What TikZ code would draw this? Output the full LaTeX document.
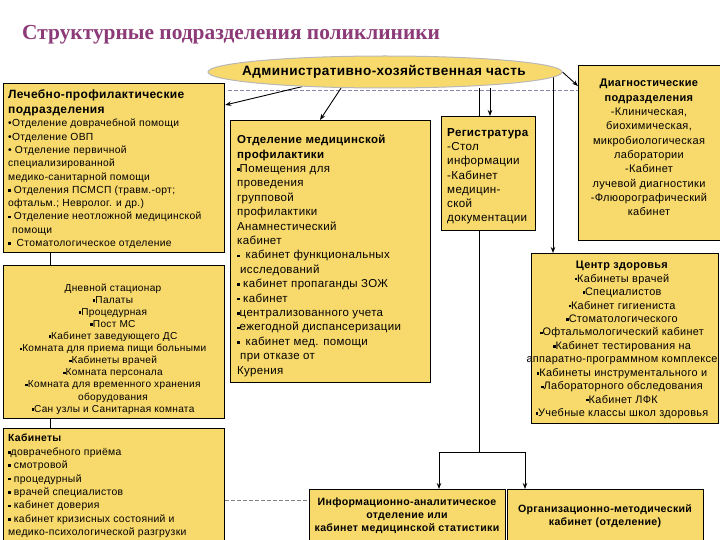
\documentclass[tikz,border=0pt]{standalone}
\usepackage{fontspec}
\setmainfont{Liberation Sans}[LetterSpace=3]
\newfontfamily\titlefont{Liberation Serif}
\usetikzlibrary{shapes.geometric,arrows.meta,backgrounds,calc}
\definecolor{boxy}{RGB}{248,217,108}
\definecolor{ttl}{RGB}{140,58,120}
\definecolor{dashc}{RGB}{140,130,170}
\definecolor{dashg}{RGB}{130,130,130}
\newcommand\sq{\raisebox{0.3ex}{\rule{2.5pt}{2.5pt}}}
\begin{document}
\begin{tikzpicture}[x=1pt,y=-1pt,
 box/.style={draw=black,line width=1.2pt,fill=boxy,inner sep=0pt,anchor=north west},
 lt/.style={inner sep=0pt,anchor=north west,align=left},
 ct/.style={inner sep=0pt,anchor=north,align=center},
 arr/.style={-{Stealth[length=6pt,width=4.5pt]},line width=0.9pt},
 ln/.style={line width=0.9pt},
 dsh/.style={dash pattern=on 4pt off 2pt,draw=dashc,line width=0.7pt},
 dshb/.style={dash pattern=on 4pt off 2pt,draw=dashg,line width=0.7pt}]
\useasboundingbox (0,0) rectangle (720,540);

% title
\node[anchor=base west,inner sep=0pt,font=\titlefont\bfseries\fontsize{21.4}{24}\selectfont,text=ttl] (title) at (22,40) {Структурные подразделения поликлиники};

% ellipse
\node[ellipse,draw=gray!55,line width=1pt,fill=boxy,minimum width=354pt,minimum height=32pt,inner sep=0pt] (adm) at (385,72) {};
\node[inner sep=0pt,font=\bfseries\fontsize{13.6}{15}\selectfont] (admT) at (384,72) {Административно-хозяйственная часть};

% boxes
\node[box,minimum width=221pt,minimum height=169pt] (lp) at (3,83) {};
\node[box,minimum width=221pt,minimum height=153pt] (ds) at (3,265) {};
\node[box,minimum width=221pt,minimum height=125pt] (kb) at (3,428) {};
\node[box,minimum width=200pt,minimum height=262pt] (mb) at (230,120) {};
\node[box,minimum width=94pt,minimum height=114pt] (reg) at (441,116) {};
\node[box,minimum width=150pt,minimum height=175pt] (dg) at (578,65) {};
\node[box,minimum width=187pt,minimum height=170pt] (cz) at (531,253) {};
\node[box,minimum width=196pt,minimum height=65pt] (ia) at (309,489) {};
\node[box,minimum width=196pt,minimum height=65pt] (oc) at (507,489) {};

% texts
\node[lt,font=\bfseries\fontsize{12}{15}\selectfont] (lpT) at (8,90) {Лечебно-профилактические\\подразделения};
\node[lt,font=\fontsize{10.3}{13.3}\selectfont] (lpB) at (8,119) {•Отделение доврачебной помощи\\•Отделение ОВП\\• Отделение первичной\\специализированной\\медико-санитарной помощи\\\sq{} Отделения ПСМСП (травм.-орт;\\офтальм.; Невролог. и др.)\\\sq{} Отделение неотложной медицинской\\\hspace*{4pt}помощи\\\sq{}\hspace*{6pt}Стоматологическое отделение};

\node[ct,font=\fontsize{10.1}{12.1}\selectfont] (dsT) at (113,283.5) {Дневной стационар\\\sq Палаты\\\sq Процедурная\\\sq Пост МС\\\sq Кабинет заведующего ДС\\\sq Комната для приема пищи больными\\\sq Кабинеты врачей\\\sq Комната персонала\\\sq Комната для временного хранения\\оборудования\\\sq Сан узлы и Санитарная комната};

\node[lt,font=\fontsize{10.4}{13.4}\selectfont] (kbT) at (8,434) {\textbf{Кабинеты}\\\sq доврачебного приёма\\\sq{} смотровой\\\sq{} процедурный\\\sq{} врачей специалистов\\\sq{} кабинет доверия\\\sq{} кабинет кризисных состояний и\\медико-психологической разгрузки};

\node[lt,font=\fontsize{11.5}{14.4}\selectfont] (mbT) at (237,135) {\textbf{Отделение медицинской}\\\textbf{профилактики}\\\sq Помещения для\\проведения\\групповой\\профилактики\\Анамнестический\\кабинет\\\sq\hspace*{6pt}кабинет функциональных\\\hspace*{3pt}исследований\\\sq{} кабинет пропаганды ЗОЖ\\\sq{} кабинет\\\sq централизованного учета\\\sq ежегодной диспансеризации\\\sq\hspace*{6pt}кабинет мед. помощи\\\hspace*{3pt}при отказе от\\Курения};

\node[lt,font=\fontsize{11.6}{14.3}\selectfont] (regT) at (447,128) {\textbf{Регистратура}\\-Стол\\информации\\-Кабинет\\медицин-\\ской\\документации};

\node[ct,font=\fontsize{11}{14.33}\selectfont] (dgT) at (649,79) {\textbf{Диагностические}\\\textbf{подразделения}\\-Клиническая,\\биохимическая,\\микробиологическая\\лаборатории\\-Кабинет\\лучевой диагностики\\-Флюорографический\\кабинет};

\node[ct,font=\fontsize{10.9}{13.45}\selectfont] (czT) at (622,261) {\textbf{Центр здоровья}\\\sq Кабинеты врачей\\\sq Специалистов\\\sq Кабинет гигиениста\\\sq Стоматологического\\\sq Офтальмологический кабинет\\\sq Кабинет тестирования на\\аппаратно-программном комплексе\\\sq Кабинеты инструментального и\\\sq Лабораторного обследования\\\sq Кабинет ЛФК\\\sq Учебные классы школ здоровья};

\node[ct,font=\bfseries\fontsize{10.6}{13}\selectfont] (iaT) at (407,498) {Информационно-аналитическое\\отделение или\\кабинет медицинской статистики};
\node[ct,font=\bfseries\fontsize{10.6}{13.5}\selectfont] (ocT) at (605,504) {Организационно-методический\\кабинет (отделение)};

% connectors
\begin{pgfonlayer}{background}
\fill[white] (0,0) rectangle (720,540);
\coordinate (d1) at (228,90);
\coordinate (d2) at (720,90);
\draw[dsh] (d1) -- (d2);
\coordinate (iaP) at ([yshift=-11pt]ia.north west);
\draw[dshb] (kb.east |- iaP) -- (iaP);
\draw[ln] ([xshift=47pt]lp.south west) -- ([xshift=47pt]ds.north west);
\draw[ln] ([xshift=47pt]ds.south west) -- ([xshift=47pt]kb.north west);
\draw[arr] (adm.190) -- ([yshift=-22pt]lp.north east);
\draw[arr] (adm.200) -- ([xshift=90pt]mb.north west);
\draw[arr] ([xshift=49pt]reg.north west |- adm.south) -- ([xshift=49pt]reg.north west);
\coordinate (j) at (479,452);
\draw[ln] (j |- adm.south) -- (j);
\draw[arr] (j) -| ([xshift=130pt]ia.north west);
\draw[arr] (j) -| ([xshift=18pt]oc.north west);
\draw[arr] ([xshift=22pt]cz.north west |- adm.east) -- ([xshift=22pt]cz.north west);
\draw[arr] (adm.east) -- ([yshift=-21pt]dg.north west);
\end{pgfonlayer}
\end{tikzpicture}
\end{document}
